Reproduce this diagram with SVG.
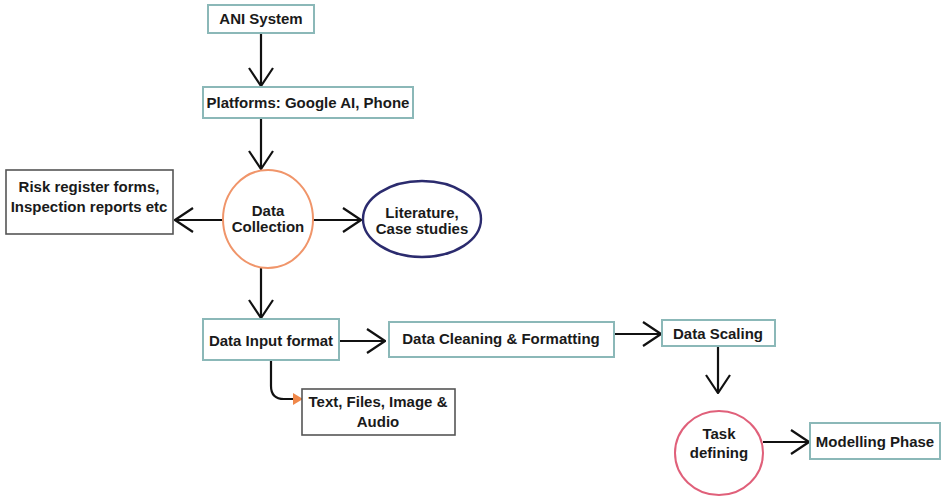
<svg xmlns="http://www.w3.org/2000/svg" width="942" height="497" viewBox="0 0 942 497">
<style>
.box{fill:#fff;stroke:#8bb8b8;stroke-width:2}
.gbox{fill:#fff;stroke:#555;stroke-width:1.6}
.t{font-family:"Liberation Sans",Arial,sans-serif;font-weight:bold;font-size:15px;fill:#1a1a1a;text-anchor:middle}
.c{fill:none;stroke:#111;stroke-width:2.2}
</style>
<defs>
<marker id="arr" viewBox="0 0 20 26" refX="19" refY="13" markerWidth="20" markerHeight="26" markerUnits="userSpaceOnUse" orient="auto">
<path d="M1,1 L19,13 L1,25" fill="none" stroke="#111" stroke-width="2.2"/>
</marker>
<marker id="oarr" viewBox="0 0 10 12" refX="9" refY="6" markerWidth="10" markerHeight="12" markerUnits="userSpaceOnUse" orient="auto">
<path d="M0,0 L10,6 L0,12 Z" fill="#f0884a"/>
</marker>
</defs>
<g id="connectors">
<line class="c" x1="261" y1="33" x2="261" y2="86" marker-end="url(#arr)"/>
<line class="c" x1="261" y1="118" x2="261" y2="169" marker-end="url(#arr)"/>
<line class="c" x1="223" y1="220" x2="175" y2="220" marker-end="url(#arr)"/>
<line class="c" x1="313" y1="220" x2="361" y2="220" marker-end="url(#arr)"/>
<line class="c" x1="261" y1="268" x2="261" y2="318" marker-end="url(#arr)"/>
<line class="c" x1="339" y1="341" x2="385" y2="341" marker-end="url(#arr)"/>
<line class="c" x1="614" y1="334" x2="661" y2="334" marker-end="url(#arr)"/>
<line class="c" x1="718" y1="346" x2="718" y2="393" marker-end="url(#arr)"/>
<line class="c" x1="763" y1="442" x2="809" y2="442" marker-end="url(#arr)"/>
<path class="c" d="M271,360 L271,386 Q271,399 284,399 L302,399" marker-end="url(#oarr)"/>
</g>
<g id="ani"><rect class="box" x="208" y="5" width="106" height="28"/><text class="t" x="261" y="24">ANI System</text></g>
<g id="platforms"><rect class="box" x="203" y="87" width="210" height="31"/><text class="t" x="308" y="108">Platforms: Google AI, Phone</text></g>
<g id="risk"><rect class="gbox" x="6" y="170" width="167" height="64"/><text class="t" x="89" y="192">Risk register forms,</text><text class="t" x="89" y="212">Inspection reports etc</text></g>
<g id="collection"><ellipse cx="268" cy="219" rx="45" ry="49" fill="#fff" stroke="#f0956a" stroke-width="2"/><text class="t" x="268" y="216">Data</text><text class="t" x="268" y="232">Collection</text></g>
<g id="literature"><ellipse cx="422" cy="219" rx="59" ry="38" fill="#fff" stroke="#2b2b6e" stroke-width="2.4"/><text class="t" x="422" y="218">Literature,</text><text class="t" x="422" y="234">Case studies</text></g>
<g id="input"><rect class="box" x="203" y="319" width="136" height="41"/><text class="t" x="271" y="346">Data Input format</text></g>
<g id="cleaning"><rect class="box" x="389" y="322" width="225" height="35"/><text class="t" x="501" y="344">Data Cleaning &amp; Formatting</text></g>
<g id="textfiles"><rect class="gbox" x="302" y="389" width="153" height="46"/><text class="t" x="378" y="407">Text, Files, Image &amp;</text><text class="t" x="378" y="427">Audio</text></g>
<g id="scaling"><rect class="box" x="662" y="320" width="113" height="26"/><text class="t" x="718" y="339">Data Scaling</text></g>
<g id="task"><ellipse cx="719" cy="453" rx="44" ry="42" fill="#fff" stroke="#e0607a" stroke-width="2"/><text class="t" x="719" y="439">Task</text><text class="t" x="719" y="458">defining</text></g>
<g id="modelling"><rect class="box" x="810" y="423" width="130" height="36"/><text class="t" x="875" y="447">Modelling Phase</text></g>
</svg>
